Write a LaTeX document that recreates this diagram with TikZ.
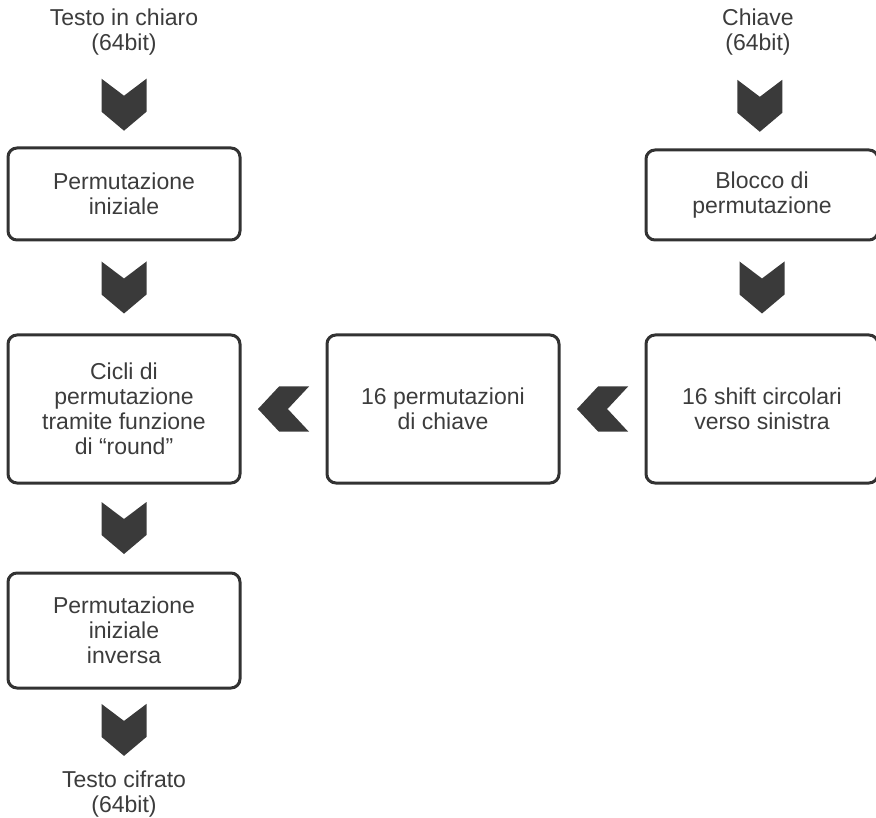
\documentclass[tikz,border=0pt]{standalone}
\usepackage{fontspec}
\setmainfont{Liberation Sans}
\usepackage{tikz}
\usetikzlibrary{positioning}
\usepackage{xcolor}
\definecolor{DESText}{RGB}{60, 60, 60}
\definecolor{DESLine}{RGB}{50, 50, 50}
\definecolor{DESArrow}{RGB}{58, 58, 58}

\begin{document}
\begin{tikzpicture}[
            x=1pt, y=-1pt,
            stepbox/.style={
                draw=DESLine, line width=3pt, rounded corners=9pt,
                minimum width=232pt, align=center, text=DESText, inner sep=0pt,
                font=\fontsize{23}{25}\selectfont
            },
            label/.style={align=center, text=DESText, inner sep=0pt,
                font=\fontsize{23}{25.5}\selectfont},
            chevdown/.pic={\fill[DESArrow] (-22.5,-26) -- (0,-9) -- (22.5,-26)
                -- (22.5,7) -- (0,26) -- (-22.5,7) -- cycle;},
            chevleft/.pic={\fill[DESArrow] (-25.5,0) -- (-4.5,-22.5) -- (25.5,-22.5)
                -- (4.5,0) -- (25.5,22.5) -- (-4.5,22.5) -- cycle;}
        ]
            \useasboundingbox (0,0) rectangle (876,818);

            % Plaintext branch
            \node[label] (plain) at (124,32) {Testo in chiaro\\(64bit)};
            \node[stepbox, minimum height=92pt] (ip) at (124,194) {Permutazione\\iniziale};
            \node[stepbox, minimum height=148pt, below=92pt of ip] (rounds)
                {Cicli di\\permutazione\\tramite funzione\\di “round”};
            \node[stepbox, minimum height=115pt, below=87pt of rounds] (fp)
                {Permutazione\\iniziale\\inversa};
            \node[label] (cipher) at (124,794) {Testo cifrato\\(64bit)};

            % Key branch
            \node[stepbox, minimum height=148pt, right=84pt of rounds] (subkeys)
                {16 permutazioni\\di chiave};
            \node[stepbox, minimum height=148pt, right=84pt of subkeys] (shift)
                {16 shift circolari\\verso sinistra};
            \node[stepbox, minimum height=90pt, above=92pt of shift] (pc)
                {Blocco di\\permutazione};
            \node[label] (key) at (758,32) {Chiave\\(64bit)};

            % Chevron connectors
            \path (plain) -- pic[pos=.54]{chevdown} (ip);
            \path (ip) -- pic{chevdown} (rounds);
            \path (rounds) -- pic{chevdown} (fp);
            \path (fp) -- pic{chevdown} (cipher);
            \path (key) -- pic[pos=.54]{chevdown} (pc);
            \path (pc) -- pic{chevdown} (shift);
            \path (shift) -- pic{chevleft} (subkeys);
            \path (subkeys) -- pic{chevleft} (rounds);
        \end{tikzpicture}
\end{document}
